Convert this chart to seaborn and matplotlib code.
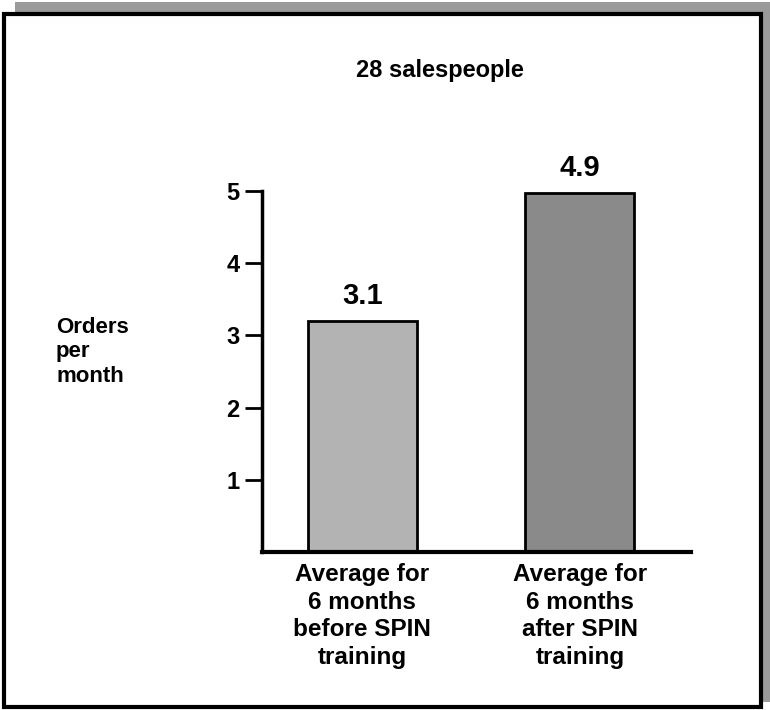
import seaborn as sns
import matplotlib.pyplot as plt
from matplotlib.patches import Rectangle

# ---- data ----
categories = ["Average for\n6 months\nbefore SPIN\ntraining",
              "Average for\n6 months\nafter SPIN\ntraining"]
bar_heights = [3.2, 4.97]          # drawn bar heights
value_labels = ["3.1", "4.9"]       # printed above the bars
bar_colors = ["#b3b3b3", "#8a8a8a"]
y_ticks = [1, 2, 3, 4, 5]

# ---- style ----
sns.set_style("white")
plt.rcParams["font.family"] = ["Liberation Sans", "DejaVu Sans"]
plt.rcParams["font.weight"] = "bold"
plt.rcParams["text.color"] = "black"
plt.rcParams["xtick.color"] = "black"
plt.rcParams["ytick.color"] = "black"
plt.rcParams["axes.edgecolor"] = "black"

fig = plt.figure(figsize=(7.7, 7.1), dpi=100)

# page frame with grey shadow
fig.patches.append(Rectangle((15 / 770, 1 - 702 / 710), 755 / 770, 700 / 710,
                             transform=fig.transFigure, facecolor="#9a9a9a",
                             edgecolor="none", zorder=-2))
fig.patches.append(Rectangle((4 / 770, 1 - 707 / 710), 757 / 770, 693 / 710,
                             transform=fig.transFigure, facecolor="white",
                             edgecolor="black", linewidth=3, zorder=-1))

ax = fig.add_axes([262 / 770, 1 - 552 / 710, 429 / 770, 361 / 710])
ax.set_facecolor("none")
sns.barplot(x=categories, y=bar_heights, hue=categories, palette=bar_colors,
            legend=False, width=0.5, edgecolor="black", linewidth=2,
            saturation=1, ax=ax)

for i, (h, lab) in enumerate(zip(bar_heights, value_labels)):
    ax.text(i, h + 0.24, lab, ha="center", va="baseline",
            fontsize=21, fontweight="bold")

ax.set_xlim(-0.46, 1.51)
ax.set_ylim(0, 5)
ax.set_yticks(y_ticks)
ax.set_yticklabels([str(t) for t in y_ticks], fontsize=17, fontweight="bold")
ax.tick_params(axis="y", direction="out", length=12, width=2, pad=4, left=True)
ax.tick_params(axis="x", length=0, pad=8)
for lab in ax.get_xticklabels():
    lab.set_fontsize(17.5)
    lab.set_fontweight("bold")
    lab.set_linespacing(1.25)

sns.despine(ax=ax)
ax.spines["left"].set_linewidth(2.5)
ax.spines["bottom"].set_linewidth(3)
ax.set_xlabel("")
ax.set_ylabel("")

fig.text(440 / 770, 1 - 77 / 710, "28 salespeople", ha="center",
         va="baseline", fontsize=17, fontweight="bold")
fig.text(56 / 770, 1 - 352 / 710, "Orders\nper\nmonth", ha="left",
         va="center", fontsize=16, fontweight="bold", linespacing=1.2)

fig.savefig("out.png", dpi=100)
plt.close(fig)
